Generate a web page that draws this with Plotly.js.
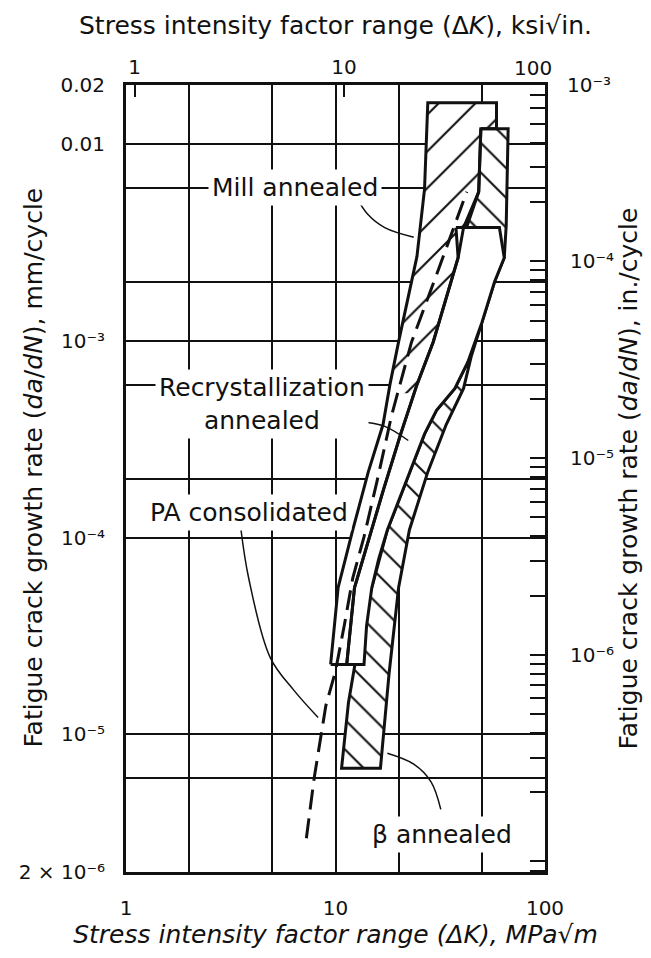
<!DOCTYPE html>
<html>
<head>
<meta charset="utf-8">
<script src="https://cdn.plot.ly/plotly-3.0.1.min.js"></script>
<style>html,body{margin:0;padding:0;background:#fff;}#chart{width:651px;height:958px;}</style>
</head>
<body>
<div id="chart"></div>
<script>
// Unit conversions for the secondary axes
const KSI_TO_MPA = 1.0988;   // 1 ksi*sqrt(in.) = 1.0988 MPa*sqrt(m)
const MM_PER_IN = 25.4;

// Labelled ticks and extra gridlines (MPa sqrt(m), mm/cycle)
const xTickVals = [1, 10, 100];
const xTickText = ['1', '10', '100'];
const xMinorGrid = [2, 5, 20, 50];
const yTickVals = [2e-6, 1e-5, 1e-4, 1e-3, 0.01, 0.02];
const yTickText = ['2 × 10⁻⁶', '10⁻⁵', '10⁻⁴', '10⁻³', '0.01', '0.02'];
const yMinorGrid = [6e-6, 2e-4, 6e-4, 2e-3, 6e-3];
const ksiTickVals = [1, 10];
const ksiTickText = ['1', '10'];
const inchTickVals = [1e-6, 1e-5, 1e-4];
const inchTickText = ['10⁻⁶', '10⁻⁵', '10⁻⁴'];
const inchDecades = [-8, -7, -6, -5, -4];
const inchMultipliers = [2, 3, 4, 5, 6, 7, 8, 9];

// Mill annealed scatter band (outline), ΔK in MPa sqrt(m), da/dN in mm/cycle
const millK    = [9.48, 10.29, 12.09, 14.34, 16.86, 18.19, 20.0, 24.48, 26.61, 27.58, 58.68, 58.68, 49.42, 48.26, 40.85, 38.49, 29.27, 24.48, 20.48, 16.86, 12.32, 11.31];
const millRate = [2.27e-5, 5.57e-5, 1.095e-4, 2.16e-4, 3.76e-4, 6.0e-4, 9.89e-4, 2.69e-3, 5.93e-3, 0.01627, 0.01627, 0.0120, 0.0120, 5.73e-3, 3.77e-3, 2.65e-3, 9.89e-4, 6.0e-4, 3.37e-4, 1.725e-4, 5.57e-5, 2.27e-5];
// hatched (upper) part of the mill annealed band
const millHatchK    = [17.85, 18.19, 20.0, 24.48, 26.61, 27.58, 58.68, 58.68, 49.42, 48.26, 40.85, 38.49, 29.27, 24.48, 23.63];
const millHatchRate = [5.43e-4, 6.0e-4, 9.89e-4, 2.69e-3, 5.93e-3, 0.01627, 0.01627, 0.0120, 0.0120, 5.73e-3, 3.77e-3, 2.65e-3, 9.89e-4, 6.0e-4, 5.43e-4];
// beta annealed band
const betaK    = [49.42, 66.70, 65.28, 63.90, 57.43, 50.0, 44.40, 40.85, 33.77, 27.58, 22.53, 20.0, 18.01, 16.39, 10.69, 11.53, 13.30, 14.90, 17.68, 21.74, 26.61, 30.34, 37.13, 42.84, 48.84, 52.76, 42.33, 48.26];
const betaRate = [0.0120, 0.0120, 3.86e-3, 2.65e-3, 2.0e-3, 1.241e-3, 8.30e-4, 5.74e-4, 3.76e-4, 2.16e-4, 1.095e-4, 5.57e-5, 2.03e-5, 6.74e-6, 6.74e-6, 1.449e-5, 3.56e-5, 5.57e-5, 1.095e-4, 1.93e-4, 3.37e-4, 4.44e-4, 5.74e-4, 7.83e-4, 1.172e-3, 1.649e-3, 3.81e-3, 5.73e-3];
// recrystallization annealed band
const recrystK    = [37.58, 60.59, 63.90, 57.43, 50.0, 42.84, 37.13, 30.34, 26.61, 21.74, 17.68, 16.08, 14.90, 14.07, 13.68, 11.31, 12.32, 16.86, 20.48, 24.48, 29.27, 38.49];
const recrystRate = [3.77e-3, 3.77e-3, 2.65e-3, 2.0e-3, 1.241e-3, 7.83e-4, 5.74e-4, 4.44e-4, 3.37e-4, 1.93e-4, 1.095e-4, 7.81e-5, 5.57e-5, 3.56e-5, 2.27e-5, 2.27e-5, 5.57e-5, 1.725e-4, 3.37e-4, 6.0e-4, 9.89e-4, 2.65e-3];
// PA consolidated (dashed curve)
const paK    = [7.26, 7.91, 8.99, 10.0, 11.0, 12.09, 13.68, 15.77, 18.54, 23.07, 31.07, 39.41, 42.33];
const paRate = [2.97e-6, 6.0e-6, 1.40e-5, 2.10e-5, 3.56e-5, 6.24e-5, 1.01e-4, 1.93e-4, 4.20e-4, 9.89e-4, 2.32e-3, 4.57e-3, 5.73e-3];
// label leader lines
const millLeaderK = [12.68, 14.21, 17.18, 23.63];
const millLeaderRate = [5.30e-3, 4.42e-3, 3.77e-3, 3.37e-3];
const recrystLeaderK = [9.28, 13.30, 17.18, 22.26];
const recrystLeaderRate = [4.07e-4, 3.89e-4, 3.68e-4, 3.12e-4];
const paLeaderK = [3.54, 3.85, 4.88, 6.32, 8.26];
const paLeaderRate = [1.095e-4, 6.24e-5, 2.46e-5, 1.68e-5, 1.22e-5];
const betaLeaderK = [17.68, 23.63, 28.58, 31.81];
const betaLeaderRate = [8.02e-6, 7.06e-6, 5.74e-6, 4.16e-6];

const FONT = 'DejaVu Sans, Arial, sans-serif';
const INK = '#111';

function closed(a) { return a.concat([a[0]]); }

const inchMinorVals = [];
inchDecades.forEach(function (e) {
  inchMultipliers.forEach(function (n) { inchMinorVals.push(n * Math.pow(10, e)); });
});

const noLine = {color: 'rgba(0,0,0,0)', width: 0};
const traces = [
  {x: closed(millK), y: closed(millRate), mode: 'lines', fill: 'toself', fillcolor: 'white', line: noLine, hoverinfo: 'skip', name: 'Mill annealed'},
  {x: closed(millHatchK), y: closed(millHatchRate), mode: 'lines', fill: 'toself', fillcolor: 'white',
   fillpattern: {shape: '/', size: 26, solidity: 0.08, fgcolor: INK, bgcolor: 'white'}, line: noLine, hoverinfo: 'skip', name: 'Mill annealed'},
  {x: closed(betaK), y: closed(betaRate), mode: 'lines', fill: 'toself', fillcolor: 'white',
   fillpattern: {shape: '\\', size: 21, solidity: 0.1, fgcolor: INK, bgcolor: 'white'}, line: {color: INK, width: 3}, hoverinfo: 'skip', name: 'β annealed'},
  {x: closed(recrystK), y: closed(recrystRate), mode: 'lines', fill: 'toself', fillcolor: 'white', line: {color: INK, width: 3}, hoverinfo: 'skip', name: 'Recrystallization annealed'},
  {x: closed(millK), y: closed(millRate), mode: 'lines', line: {color: INK, width: 3}, hoverinfo: 'skip', name: 'Mill annealed'},
  {x: paK, y: paRate, mode: 'lines', line: {color: INK, width: 3, dash: '20px,9px'}, hoverinfo: 'skip', name: 'PA consolidated'},
  {x: millLeaderK, y: millLeaderRate, mode: 'lines', line: {color: INK, width: 1.5, shape: 'spline'}, hoverinfo: 'skip'},
  {x: recrystLeaderK, y: recrystLeaderRate, mode: 'lines', line: {color: INK, width: 1.5, shape: 'spline'}, hoverinfo: 'skip'},
  {x: paLeaderK, y: paLeaderRate, mode: 'lines', line: {color: INK, width: 1.5, shape: 'spline'}, hoverinfo: 'skip'},
  {x: betaLeaderK, y: betaLeaderRate, mode: 'lines', line: {color: INK, width: 1.5, shape: 'spline'}, hoverinfo: 'skip'},
  {x: [], y: [], xaxis: 'x2', yaxis: 'y2', mode: 'lines', hoverinfo: 'skip'}
];

const tickFont = {family: FONT, size: 20, color: INK};
const labelFont = {family: FONT, size: 25, color: INK};
const layout = {
  width: 651, height: 958,
  margin: {l: 126, r: 106, t: 85, b: 86},
  paper_bgcolor: 'white', plot_bgcolor: 'white',
  showlegend: false,
  font: {family: FONT, color: INK},
  xaxis: {
    type: 'log', range: [0, 2], tickmode: 'array', tickvals: xTickVals, ticktext: xTickText,
    showgrid: true, gridcolor: INK, gridwidth: 2, zeroline: false,
    minor: {tickmode: 'array', tickvals: xMinorGrid, showgrid: true, gridcolor: INK, gridwidth: 2, ticks: ''},
    showline: true, linecolor: INK, linewidth: 3, ticks: '', ticklabelstandoff: 16,
    tickfont: tickFont,
    title: {text: 'Stress intensity factor range (Δ<i>K</i>), MPa√m', font: {family: FONT, size: 25, color: INK, style: 'italic'}, standoff: 6}
  },
  xaxis2: {
    type: 'log', overlaying: 'x', side: 'top', anchor: 'y2',
    range: [Math.log10(1 / KSI_TO_MPA), Math.log10(100 / KSI_TO_MPA)],
    tickmode: 'array', tickvals: ksiTickVals, ticktext: ksiTickText, showgrid: false, zeroline: false,
    showline: true, linecolor: INK, linewidth: 3, ticks: 'inside', ticklen: 12, tickwidth: 2, tickcolor: INK,
    ticklabelstandoff: 0,
    tickfont: tickFont
  },
  yaxis: {
    type: 'log', range: [Math.log10(2e-6), Math.log10(0.02)], tickmode: 'array', tickvals: yTickVals, ticktext: yTickText,
    showgrid: true, gridcolor: INK, gridwidth: 2, zeroline: false,
    minor: {tickmode: 'array', tickvals: yMinorGrid, showgrid: true, gridcolor: INK, gridwidth: 2, ticks: ''},
    showline: true, linecolor: INK, linewidth: 3, ticks: '', ticklabelstandoff: 14,
    tickfont: tickFont
  },
  yaxis2: {
    type: 'log', overlaying: 'y', side: 'right', anchor: 'x2',
    range: [Math.log10(2e-6 / MM_PER_IN), Math.log10(0.02 / MM_PER_IN)],
    tickmode: 'array', tickvals: inchTickVals, ticktext: inchTickText, showgrid: false, zeroline: false,
    minor: {tickmode: 'array', tickvals: inchMinorVals, ticks: 'inside', ticklen: 15, tickwidth: 2, tickcolor: INK, showgrid: false},
    showline: true, linecolor: INK, linewidth: 3, ticks: 'inside', ticklen: 15, tickwidth: 2, tickcolor: INK,
    ticklabelstandoff: 18,
    tickfont: tickFont,
    title: {text: 'Fatigue crack growth rate (<i>da</i>/<i>dN</i>), in./cycle', font: {family: FONT, size: 25, color: INK}, standoff: 6}
  },
  annotations: [
    {text: 'Stress intensity factor range (Δ<i>K</i>), ksi√in.', x: 0.5, y: 1, xref: 'paper', yref: 'paper',
     xanchor: 'center', yanchor: 'middle', yshift: 60, showarrow: false, font: {family: FONT, size: 25, color: INK}},
    {text: 'Fatigue crack growth rate (<i>da</i>/<i>dN</i>), mm/cycle', textangle: -90, x: 0, y: 0.5, xref: 'paper', yref: 'paper',
     xanchor: 'center', yanchor: 'middle', xshift: -93, yshift: 11, showarrow: false, font: {family: FONT, size: 25, color: INK}},
    {text: 'Mill annealed', x: Math.log10(6.4), y: Math.log10(6e-3), xref: 'x', yref: 'y', showarrow: false, font: labelFont, bgcolor: 'white', borderpad: 3},
    {text: 'Recrystallization<br>annealed', x: Math.log10(4.44), y: Math.log10(4.8e-4), xref: 'x', yref: 'y', showarrow: false, font: labelFont, bgcolor: 'white', borderpad: 3},
    {text: 'PA consolidated', x: Math.log10(3.85), y: Math.log10(1.34e-4), xref: 'x', yref: 'y', showarrow: false, font: labelFont, bgcolor: 'white', borderpad: 3},
    {text: 'β annealed', x: Math.log10(32.2), y: Math.log10(3.1e-6), xref: 'x', yref: 'y', showarrow: false, font: labelFont, bgcolor: 'white', borderpad: 3},
    {text: '100', x: Math.log10(100 * KSI_TO_MPA) / 2, y: 1, xref: 'paper', yref: 'paper', yanchor: 'bottom', yshift: 3, showarrow: false, font: tickFont},
    {text: '10⁻³', x: 1, y: 1, xref: 'paper', yref: 'paper', xanchor: 'left', yanchor: 'middle', xshift: 20, showarrow: false, font: tickFont}
  ]
};

Plotly.newPlot('chart', traces, layout, {staticPlot: true, displayModeBar: false});
</script>
</body>
</html>
